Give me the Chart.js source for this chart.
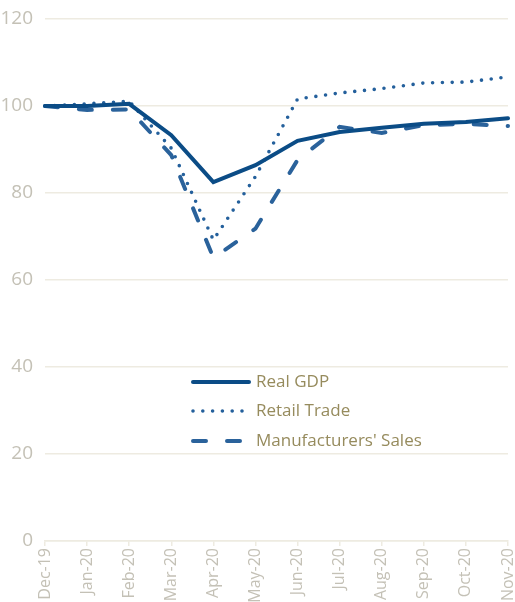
<!DOCTYPE html>
<html>
<head>
<meta charset="utf-8">
<script src="https://cdn.jsdelivr.net/npm/chart.js@4.4.1/dist/chart.umd.min.js"></script>
<style>
  html, body { margin: 0; padding: 0; background: #fff; }
  #wrap { width: 515px; height: 602px; position: relative; }
</style>
</head>
<body>
<div id="wrap"><canvas id="myChart"></canvas></div>
<script>
const months = ["Dec-19", "Jan-20", "Feb-20", "Mar-20", "Apr-20", "May-20",
  "Jun-20", "Jul-20", "Aug-20", "Sep-20", "Oct-20", "Nov-20"];
const realGdp = [100, 100, 100.5, 93.3, 82.5, 86.4, 92, 94, 95, 95.9, 96.3, 97.2];
const retailTrade = [100, 100.5, 101.1, 90.3, 69.2, 83.8, 101.6, 103, 104, 105.3, 105.5, 106.7];
const manufacturersSales = [100, 99.1, 99.2, 88.7, 65.1, 71.8, 87.6, 95.2, 93.8, 95.6, 95.9, 95.4];
const yTicks = [0, 20, 40, 60, 80, 100, 120];

const gridColor = "#eeebe1";
const tickColor = "#c4c1b6";

// legend drawn inside the plot, below the curves
const innerLegend = {
  id: "innerLegend",
  afterDatasetsDraw(chart) {
    const c = chart.ctx;
    const x0 = 193, x1 = 249, tx = 256;
    const rows = [382, 411, 441];
    chart.data.datasets.forEach((ds, i) => {
      const y = rows[i];
      c.save();
      c.strokeStyle = ds.borderColor;
      c.lineWidth = ds.borderWidth;
      c.lineCap = "round";
      c.setLineDash(ds.borderDash || []);
      c.beginPath();
      c.moveTo(x0, y);
      c.lineTo(x1, y);
      c.stroke();
      c.restore();
      c.save();
      c.fillStyle = "#968b5d";
      c.font = "17px 'Open Sans'";
      c.textBaseline = "middle";
      c.fillText(ds.label, tx, y);
      c.restore();
    });
  },
};

new Chart(document.getElementById("myChart"), {
  type: "line",
  data: {
    labels: months,
    datasets: [
      {
        label: "Real GDP",
        data: realGdp,
        borderColor: "#0b4c86",
        borderWidth: 4,
        borderCapStyle: "round",
        pointRadius: 0,
        tension: 0,
      },
      {
        label: "Retail Trade",
        data: retailTrade,
        borderColor: "#24609c",
        borderWidth: 3.6,
        borderDash: [0, 9.8],
        borderCapStyle: "round",
        pointRadius: 0,
        tension: 0,
      },
      {
        label: "Manufacturers' Sales",
        data: manufacturersSales,
        borderColor: "#2a629b",
        borderWidth: 4,
        borderDash: [13, 21],
        borderCapStyle: "round",
        pointRadius: 0,
        tension: 0,
      },
    ],
  },
  options: {
    responsive: true,
    maintainAspectRatio: false,
    animation: false,
    layout: { padding: { top: 19, right: 7, left: 0, bottom: 0 } },
    plugins: {
      legend: { display: false },
      tooltip: { enabled: false },
    },
    scales: {
      x: {
        offset: false,
        grid: {
          drawOnChartArea: false,
          drawTicks: true,
          tickLength: 5,
          color: gridColor,
          lineWidth: 1.5,
        },
        border: { color: gridColor, width: 1.5 },
        ticks: {
          color: tickColor,
          font: { family: "'Open Sans'", size: 16 },
          maxRotation: 90,
          minRotation: 90,
          autoSkip: false,
          padding: 2,
        },
        afterFit(scale) {
          scale.height = 61;
          scale.paddingLeft = 0;
          scale.paddingRight = 0;
        },
      },
      y: {
        min: 0,
        max: 120,
        afterBuildTicks(scale) {
          scale.ticks = yTicks.map((v) => ({ value: v }));
        },
        grid: {
          color: gridColor,
          lineWidth: 1.5,
          drawTicks: false,
        },
        border: { display: false },
        ticks: {
          color: tickColor,
          font: { family: "'Open Sans'", size: 19 },
          padding: 12,
        },
        afterFit(scale) {
          scale.width = 45;
          scale.paddingTop = 0;
          scale.paddingBottom = 0;
        },
      },
    },
  },
  plugins: [innerLegend],
});
</script>
</body>
</html>
